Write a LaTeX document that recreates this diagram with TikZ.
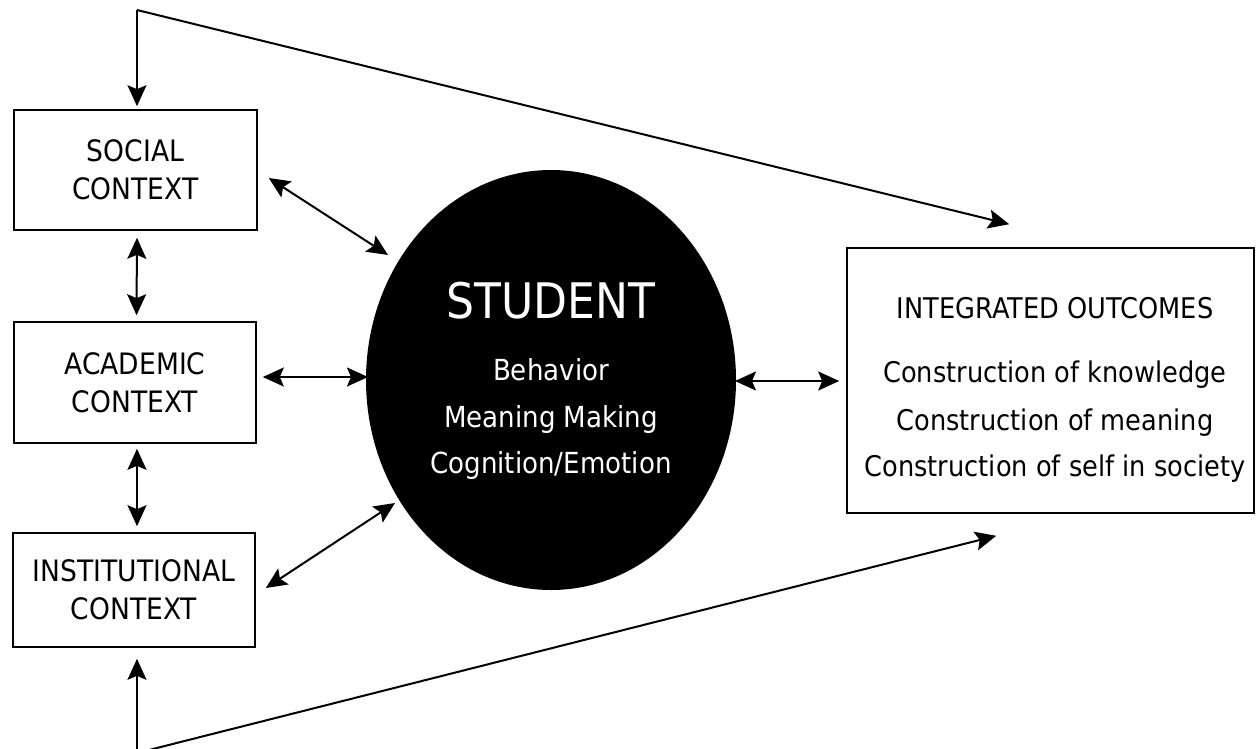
\documentclass[tikz,border=0pt]{standalone}
\usepackage{fontspec}
\setmainfont{DejaVu Sans}[FakeStretch=0.9]
\usetikzlibrary{arrows.meta,shapes.geometric}

\tikzset{
  headtip/.tip={Stealth[length=21pt,width=19pt,inset=4pt]},
  ctxbox/.style={draw, line width=1.6pt, rectangle, inner sep=0pt,
    minimum width=243pt, align=center,
    font=\fontsize{29.5}{38}\selectfont},
  conn/.style={line width=2pt, headtip-headtip},
  oneway/.style={line width=2pt, -headtip},
  bigtxt/.style={anchor=base, inner sep=0pt, text=white,
    font=\fontsize{49}{55}\selectfont},
  intxt/.style={anchor=base, inner sep=0pt, text=white,
    font=\fontsize{29}{35}\selectfont},
  outtxt/.style={anchor=base, inner sep=0pt,
    font=\fontsize{28.5}{34}\selectfont},
}

\begin{document}
\begin{tikzpicture}[x=1pt,y=-1pt]
\useasboundingbox (0,0) rectangle (1256,748);

% context boxes on the left
\node[ctxbox, minimum height=120pt] (social) at (135.5,170) {SOCIAL\\CONTEXT};
\node[ctxbox, minimum height=121pt, minimum width=242pt] (academic) at (135,382.5) {ACADEMIC\\CONTEXT};
\node[ctxbox, minimum height=114pt, minimum width=242pt] (institutional) at (134,590) {INSTITUTIONAL\\CONTEXT};

% the student
\node[ellipse, fill=black, inner sep=0pt, minimum width=370pt, minimum height=420pt] (student) at (551,380) {};
\node[bigtxt] (stutitle) at (551,318) {STUDENT};
\node[intxt] (stuA) at (551,380) {Behavior};
\node[intxt] (stuB) at (551,427) {Meaning Making};
\node[intxt] (stuC) at (551,473) {Cognition/Emotion};

% outcomes box
\node[draw, line width=1.6pt, rectangle, inner sep=0pt, minimum width=407pt, minimum height=265pt] (outcomes) at (1050.5,380.5) {};
\node[outtxt] (outtitle) at (1055,318) {INTEGRATED OUTCOMES};
\node[outtxt] (outA) at (1055,382) {Construction of knowledge};
\node[outtxt] (outB) at (1055,430) {Construction of meaning};
\node[outtxt] (outC) at (1055,476) {Construction of self in society};

% feedback loops from the outer frame
\coordinate (topcorner) at (137,10);
\coordinate (botcorner) at (137,753);
\draw[oneway, shorten >=3pt] (topcorner) -- (topcorner |- social.north);
\draw[oneway] (topcorner) -- ([shift={(163,-23)}]outcomes.north west);
\draw[oneway, shorten >=11pt] (botcorner) -- (botcorner |- institutional.south);
\draw[oneway] (botcorner) -- ([shift={(150,22)}]outcomes.south west);

% links between the contexts
\draw[conn] ([shift={(1.5,7)}]social.south) -- ([shift={(1.5,-6)}]academic.north);
\draw[conn] ([shift={(2,5)}]academic.south) -- ([shift={(3,-6)}]institutional.north);

% links between contexts and the student
\draw[conn] ([shift={(11,8)}]social.east) -- ([shift={(-163,-125)}]student.center);
\draw[conn] ([shift={(6,-5.5)}]academic.east) -- ([shift={(-183,-3)}]student.center);
\draw[conn] ([shift={(10,-2)}]institutional.east) -- ([shift={(-156,123)}]student.center);

% student to outcomes
\draw[conn] ([shift={(184,1)}]student.center) -- ([shift={(-7,0.5)}]outcomes.west);
\end{tikzpicture}
\end{document}
